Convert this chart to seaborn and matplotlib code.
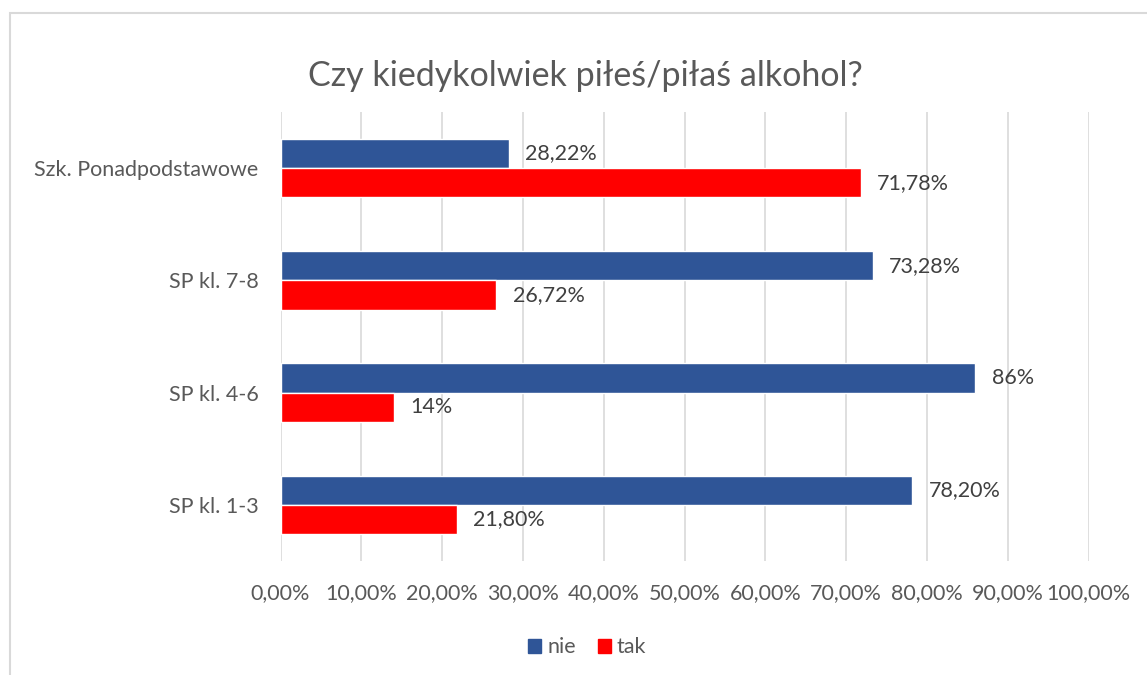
import matplotlib
matplotlib.use("Agg")
import matplotlib.pyplot as plt
import matplotlib.patches as mpatches
import seaborn as sns
import pandas as pd

categories = ["Szk. Ponadpodstawowe", "SP kl. 7-8", "SP kl. 4-6", "SP kl. 1-3"]
nie = [28.22, 73.28, 86.0, 78.20]
tak = [71.78, 26.72, 14.0, 21.80]
nie_labels = ["28,22%", "73,28%", "86%", "78,20%"]
tak_labels = ["71,78%", "26,72%", "14%", "21,80%"]
ticks = [0, 10, 20, 30, 40, 50, 60, 70, 80, 90, 100]
tick_labels = ["0,00%", "10,00%", "20,00%", "30,00%", "40,00%", "50,00%",
               "60,00%", "70,00%", "80,00%", "90,00%", "100,00%"]

df = pd.DataFrame({
    "kategoria": categories * 2,
    "seria": ["nie"] * 4 + ["tak"] * 4,
    "wartosc": nie + tak,
})

sns.set_style("white")
plt.rcParams["font.family"] = ["Lato", "DejaVu Sans"]
text_color = "#595959"

fig = plt.figure(figsize=(11.47, 6.75), dpi=100)
ax = fig.add_axes([0.2446, 0.169, 0.7044, 0.665])

palette = {"nie": "#2F5597", "tak": "#FF0000"}
sns.barplot(data=df, y="kategoria", x="wartosc", hue="seria", order=categories,
            palette=palette, orient="h", width=0.52, ax=ax, saturation=1,
            legend=False, zorder=3)

for cont, labels in zip(ax.containers, [nie_labels, tak_labels]):
    ax.bar_label(cont, labels=labels, padding=12, fontsize=15.5, color="#404040")

ax.set_xlim(0, 100)
ax.set_xticks(ticks)
ax.set_xticklabels(tick_labels)
ax.grid(axis="x", color="#d9d9d9", linewidth=1.2, zorder=0)
ax.grid(axis="y", visible=False)
for s in ax.spines.values():
    s.set_visible(False)
ax.tick_params(axis="x", length=0, pad=16, labelsize=15.5, labelcolor=text_color)
ax.tick_params(axis="y", length=0, pad=16, labelsize=15.5, labelcolor=text_color)
ax.set_xlabel("")
ax.set_ylabel("")

fig.text(0.51, 0.888, "Czy kiedykolwiek piłeś/piłaś alkohol?", ha="center",
         va="center", fontsize=24.5, color=text_color)

handles = [mpatches.Patch(color=palette["nie"], label="nie"),
           mpatches.Patch(color=palette["tak"], label="tak")]
fig.legend(handles=handles, loc="center", bbox_to_anchor=(0.512, 0.041), ncol=2,
           frameon=False, fontsize=15.5, handlelength=0.6, handleheight=0.6,
           handletextpad=0.3, columnspacing=1.0, labelcolor=text_color)

border = mpatches.Rectangle((10 / 1147, -0.05), 1.2, 1 - 13 / 675 + 0.05,
                            transform=fig.transFigure, fill=False,
                            edgecolor="#d9d9d9", linewidth=1.5)
fig.patches.append(border)

fig.savefig("out.png", dpi=100)
